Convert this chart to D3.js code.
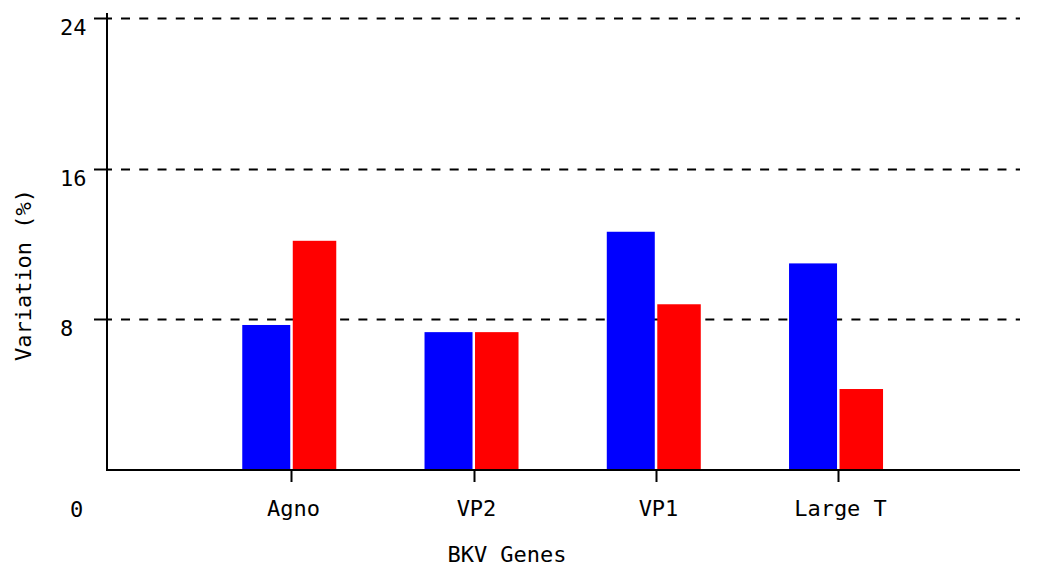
<!DOCTYPE html>
<html>
<head>
<meta charset="utf-8">
<script src="https://cdn.jsdelivr.net/npm/d3@7"></script>
<style>
  html, body { margin: 0; padding: 0; background: #fff; }
  svg { display: block; }
  text { font-family: "DejaVu Sans Mono", monospace; font-size: 22px; fill: #000; }
</style>
</head>
<body>
<svg id="chart" width="1050" height="578"></svg>
<script>
const categories = ["Agno", "VP2", "VP1", "Large T"];
const seriesBlue = [7.7, 7.32, 12.65, 10.97];
const seriesRed = [12.17, 7.32, 8.8, 4.3];
const yTicks = [0, 8, 16, 24];
const xTitle = "BKV Genes";
const yTitle = "Variation (%)";

const svg = d3.select("#chart");
const y = d3.scaleLinear().domain([0, 24]).range([470, 18]);
const x = d3.scaleLinear().domain([0, categories.length + 1]).range([109, 1020.3]);
const axisX = 107;

// gridlines (non-zero ticks)
const grid = svg.append("g");
yTicks.filter(v => v > 0).forEach(v => {
  const yy = Math.round(y(v)) + 0.5;
  grid.append("line").attr("x1", 121).attr("x2", 1020).attr("y1", yy).attr("y2", yy)
    .attr("stroke", "#000").attr("stroke-width", 2).attr("stroke-dasharray", "9,9.26");
  grid.append("line").attr("x1", 94).attr("x2", 112).attr("y1", yy).attr("y2", yy)
    .attr("stroke", "#000").attr("stroke-width", 2);
});

// bars
const bars = svg.append("g");
categories.forEach((c, i) => {
  const cx = x(i + 1);
  bars.append("rect").attr("x", cx - 49).attr("width", 48)
    .attr("y", y(seriesBlue[i])).attr("height", y(0) - y(seriesBlue[i]))
    .attr("fill", "#0000ff");
  bars.append("rect").attr("x", cx + 1.5).attr("width", 43.5)
    .attr("y", y(seriesRed[i])).attr("height", y(0) - y(seriesRed[i]))
    .attr("fill", "#ff0000");
});

// axes lines
svg.append("line").attr("x1", axisX).attr("x2", axisX).attr("y1", 13).attr("y2", y(0) + 1)
  .attr("stroke", "#000").attr("stroke-width", 2);
svg.append("line").attr("x1", axisX).attr("x2", 1020).attr("y1", y(0)).attr("y2", y(0))
  .attr("stroke", "#000").attr("stroke-width", 2);

// x ticks and labels
categories.forEach((c, i) => {
  const cx = Math.round(x(i + 1)) + 0.5;
  svg.append("line").attr("x1", cx).attr("x2", cx).attr("y1", y(0)).attr("y2", y(0) + 12)
    .attr("stroke", "#000").attr("stroke-width", 2);
  svg.append("text").attr("x", cx + 2).attr("y", 516).attr("text-anchor", "middle").text(c);
});

// y tick labels
yTicks.forEach(v => {
  if (v === 0) {
    svg.append("text").attr("x", 70).attr("y", 517).text(String(v));
  } else {
    svg.append("text").attr("x", 60).attr("y", y(v) + 17).text(String(v));
  }
});

// titles
svg.append("text").attr("x", 507).attr("y", 562).attr("text-anchor", "middle").text(xTitle);
svg.append("text").attr("transform", "translate(31,275) rotate(-90)")
  .attr("text-anchor", "middle").text(yTitle);
</script>
</body>
</html>
